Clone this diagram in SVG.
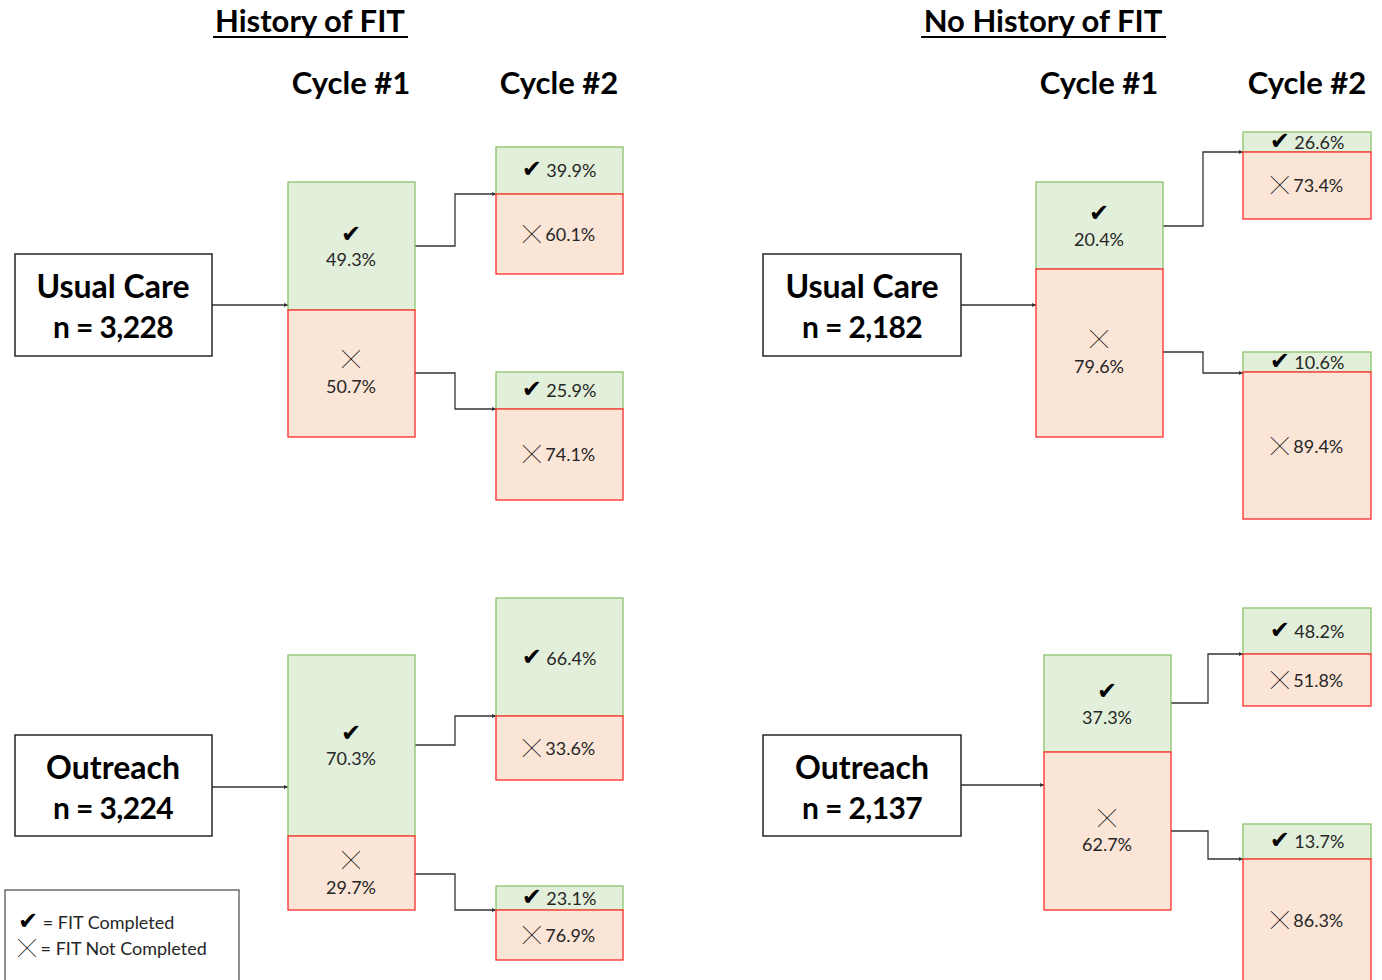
<svg xmlns="http://www.w3.org/2000/svg" width="1382" height="980" viewBox="0 0 1382 980">
<defs>
<style>
.title{font-family:Lato,"Open Sans",sans-serif;font-weight:bold;font-size:31px;fill:#000;text-anchor:middle}
.cyc{font-family:Lato,"Open Sans",sans-serif;font-weight:bold;font-size:31px;fill:#000;text-anchor:middle}
.grp{font-family:Lato,"Open Sans",sans-serif;font-weight:bold;font-size:32px;fill:#000;text-anchor:middle}
.num{font-family:Lato,"Open Sans",sans-serif;font-weight:bold;font-size:30px;letter-spacing:-0.6px;fill:#000;text-anchor:middle}
.pct{font-family:Lato,"Open Sans",sans-serif;font-size:18px;fill:#262626;text-anchor:middle}
.ck{font-family:"DejaVu Sans",sans-serif;font-size:24px;fill:#000}
.x{font-family:"Noto Sans CJK SC",sans-serif;font-size:18px;fill:#000}
.leg{font-family:Lato,"Open Sans",sans-serif;font-size:18px;fill:#262626}
.g{fill:#E2EFDA;stroke:#8CC46C;stroke-width:1.3}
.r{fill:#FBE5D6;stroke:#FF2A2A;stroke-width:1.3}
.box{fill:#fff;stroke:#262626;stroke-width:1.5}
.c{fill:none;stroke:#333;stroke-width:1.3}
.ul{stroke:#000;stroke-width:2}
</style>
<marker id="ah" viewBox="0 0 6 6" refX="6" refY="3" markerWidth="4" markerHeight="4" orient="auto" markerUnits="userSpaceOnUse">
<path d="M0,0 L6,3 L0,6 z" fill="#333"/>
</marker>
</defs>

<g id="headers">
<text class="title" x="310" y="32">History of FIT</text>
<line class="ul" x1="213" y1="37" x2="408" y2="37"/>
<text class="title" x="1043" y="32">No History of FIT</text>
<line class="ul" x1="921" y1="37" x2="1166" y2="37"/>
<text class="cyc" x="351" y="94">Cycle #1</text>
<text class="cyc" x="559" y="94">Cycle #2</text>
<text class="cyc" x="1099" y="94">Cycle #1</text>
<text class="cyc" x="1307" y="94">Cycle #2</text>
</g>

<g id="connectors">
<line class="c" x1="212" y1="305" x2="288" y2="305" marker-end="url(#ah)"/>
<polyline class="c" points="415,246 455,246 455,194 496,194" marker-end="url(#ah)"/>
<polyline class="c" points="415,373 455,373 455,409 496,409" marker-end="url(#ah)"/>
<line class="c" x1="212" y1="787" x2="288" y2="787" marker-end="url(#ah)"/>
<polyline class="c" points="415,745 455,745 455,716 496,716" marker-end="url(#ah)"/>
<polyline class="c" points="415,874 455,874 455,910 496,910" marker-end="url(#ah)"/>
<line class="c" x1="961" y1="305" x2="1036" y2="305" marker-end="url(#ah)"/>
<polyline class="c" points="1163,226 1203,226 1203,152 1243,152" marker-end="url(#ah)"/>
<polyline class="c" points="1163,352 1203,352 1203,373 1243,373" marker-end="url(#ah)"/>
<line class="c" x1="961" y1="785" x2="1044" y2="785" marker-end="url(#ah)"/>
<polyline class="c" points="1171,703 1208,703 1208,654 1243,654" marker-end="url(#ah)"/>
<polyline class="c" points="1171,831 1208,831 1208,859 1243,859" marker-end="url(#ah)"/>
</g>

<g id="hist-uc">
<rect class="box" x="15" y="254" width="197" height="102"/>
<text class="grp" x="113" y="298">Usual Care</text>
<text class="num" x="113" y="338">n = 3,228</text>
</g>
<g id="hist-uc-c1-yes">
<rect class="g" x="288" y="182" width="127" height="128"/>
<text class="pct" x="351" y="242"><tspan class="ck">✔</tspan></text>
<text class="pct" x="351" y="266">49.3%</text>
</g>
<g id="hist-uc-c1-no">
<rect class="r" x="288" y="310" width="127" height="127"/>
<text class="pct" x="351" y="366"><tspan class="x">╳</tspan></text>
<text class="pct" x="351" y="393">50.7%</text>
</g>
<g id="hist-uc-c2a">
<rect class="g" x="496" y="147" width="127" height="47"/>
<rect class="r" x="496" y="194" width="127" height="80"/>
<text class="pct" x="559" y="177"><tspan class="ck">✔</tspan> 39.9%</text>
<text class="pct" x="559" y="241"><tspan class="x">╳</tspan> 60.1%</text>
</g>
<g id="hist-uc-c2b">
<rect class="g" x="496" y="372" width="127" height="37"/>
<rect class="r" x="496" y="409" width="127" height="91"/>
<text class="pct" x="559" y="397"><tspan class="ck">✔</tspan> 25.9%</text>
<text class="pct" x="559" y="461"><tspan class="x">╳</tspan> 74.1%</text>
</g>

<g id="hist-or">
<rect class="box" x="15" y="735" width="197" height="101"/>
<text class="grp" x="113" y="779">Outreach</text>
<text class="num" x="113" y="819">n = 3,224</text>
</g>
<g id="hist-or-c1-yes">
<rect class="g" x="288" y="655" width="127" height="181"/>
<text class="pct" x="351" y="741"><tspan class="ck">✔</tspan></text>
<text class="pct" x="351" y="765">70.3%</text>
</g>
<g id="hist-or-c1-no">
<rect class="r" x="288" y="836" width="127" height="74"/>
<text class="pct" x="351" y="867"><tspan class="x">╳</tspan></text>
<text class="pct" x="351" y="894">29.7%</text>
</g>
<g id="hist-or-c2a">
<rect class="g" x="496" y="598" width="127" height="118"/>
<rect class="r" x="496" y="716" width="127" height="64"/>
<text class="pct" x="559" y="665"><tspan class="ck">✔</tspan> 66.4%</text>
<text class="pct" x="559" y="755"><tspan class="x">╳</tspan> 33.6%</text>
</g>
<g id="hist-or-c2b">
<rect class="g" x="496" y="886" width="127" height="24"/>
<rect class="r" x="496" y="910" width="127" height="50"/>
<text class="pct" x="559" y="905"><tspan class="ck">✔</tspan> 23.1%</text>
<text class="pct" x="559" y="942"><tspan class="x">╳</tspan> 76.9%</text>
</g>

<g id="nohist-uc">
<rect class="box" x="763" y="254" width="198" height="102"/>
<text class="grp" x="862" y="298">Usual Care</text>
<text class="num" x="862" y="338">n = 2,182</text>
</g>
<g id="nohist-uc-c1-yes">
<rect class="g" x="1036" y="182" width="127" height="87"/>
<text class="pct" x="1099" y="221"><tspan class="ck">✔</tspan></text>
<text class="pct" x="1099" y="246">20.4%</text>
</g>
<g id="nohist-uc-c1-no">
<rect class="r" x="1036" y="269" width="127" height="168"/>
<text class="pct" x="1099" y="346"><tspan class="x">╳</tspan></text>
<text class="pct" x="1099" y="373">79.6%</text>
</g>
<g id="nohist-uc-c2a">
<rect class="g" x="1243" y="132" width="128" height="20"/>
<rect class="r" x="1243" y="152" width="128" height="67"/>
<text class="pct" x="1307" y="149"><tspan class="ck">✔</tspan> 26.6%</text>
<text class="pct" x="1307" y="192"><tspan class="x">╳</tspan> 73.4%</text>
</g>
<g id="nohist-uc-c2b">
<rect class="g" x="1243" y="352" width="128" height="20"/>
<rect class="r" x="1243" y="372" width="128" height="147"/>
<text class="pct" x="1307" y="369"><tspan class="ck">✔</tspan> 10.6%</text>
<text class="pct" x="1307" y="453"><tspan class="x">╳</tspan> 89.4%</text>
</g>

<g id="nohist-or">
<rect class="box" x="763" y="735" width="198" height="101"/>
<text class="grp" x="862" y="779">Outreach</text>
<text class="num" x="862" y="819">n = 2,137</text>
</g>
<g id="nohist-or-c1-yes">
<rect class="g" x="1044" y="655" width="127" height="97"/>
<text class="pct" x="1107" y="699"><tspan class="ck">✔</tspan></text>
<text class="pct" x="1107" y="724">37.3%</text>
</g>
<g id="nohist-or-c1-no">
<rect class="r" x="1044" y="752" width="127" height="158"/>
<text class="pct" x="1107" y="825"><tspan class="x">╳</tspan></text>
<text class="pct" x="1107" y="851">62.7%</text>
</g>
<g id="nohist-or-c2a">
<rect class="g" x="1243" y="608" width="128" height="46"/>
<rect class="r" x="1243" y="654" width="128" height="52"/>
<text class="pct" x="1307" y="638"><tspan class="ck">✔</tspan> 48.2%</text>
<text class="pct" x="1307" y="687"><tspan class="x">╳</tspan> 51.8%</text>
</g>
<g id="nohist-or-c2b">
<rect class="g" x="1243" y="824" width="128" height="35"/>
<rect class="r" x="1243" y="859" width="128" height="130"/>
<text class="pct" x="1307" y="848"><tspan class="ck">✔</tspan> 13.7%</text>
<text class="pct" x="1307" y="927"><tspan class="x">╳</tspan> 86.3%</text>
</g>

<g id="legend">
<rect x="5" y="890" width="234" height="100" fill="#fff" stroke="#555" stroke-width="1.3"/>
<text class="leg" x="18" y="929"><tspan class="ck">✔</tspan> = FIT Completed</text>
<text class="leg" x="18" y="955"><tspan class="x">╳</tspan> = FIT Not Completed</text>
</g>
</svg>
